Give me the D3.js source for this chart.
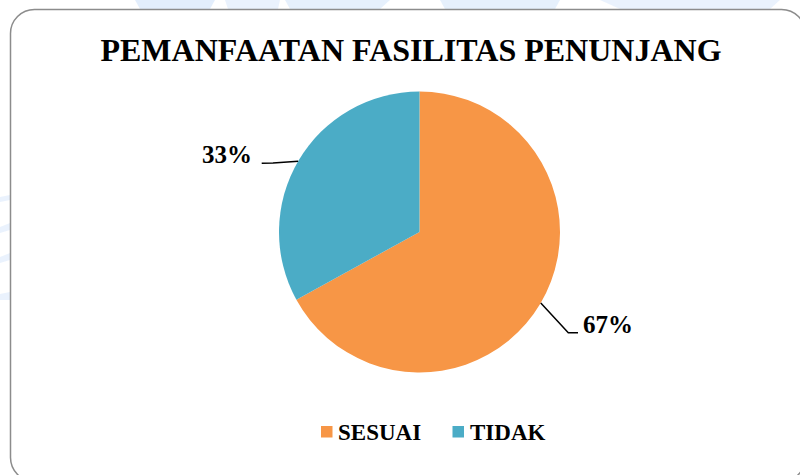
<!DOCTYPE html>
<html>
<head>
<meta charset="utf-8">
<script src="https://cdn.jsdelivr.net/npm/d3@7"></script>
<style>
  html, body { margin: 0; padding: 0; background: #ffffff; }
  svg { display: block; }
</style>
</head>
<body>
<svg id="chart" width="800" height="475"></svg>
<script>
// Chart data
const title = "PEMANFAATAN FASILITAS PENUNJANG";
const categories = ["SESUAI", "TIDAK"];
const values = [67, 33];               // percent
const labels = ["67%", "33%"];
const colors = ["#F79646", "#4BACC6"];

const svg = d3.select("#chart");
const FONT = "'Liberation Serif', 'Times New Roman', serif";

// Faint background shapes behind the chart frame
const bg = svg.append("g").attr("fill", "#dceafb");
bg.append("path").attr("d", "M135,0 L215,0 L210,9 L140,9 Z").attr("opacity", 0.8);
bg.append("path").attr("d", "M225,0 L280,0 L278,9 L228,9 Z").attr("opacity", 0.6);
bg.append("path").attr("d", "M285,0 L390,0 L380,9 L290,9 Z").attr("opacity", 0.7);
bg.append("path").attr("d", "M440,0 L560,0 L555,9 L445,9 Z").attr("opacity", 0.7);
bg.append("path").attr("d", "M600,0 L780,0 L770,9 L620,9 Z").attr("opacity", 0.6);
bg.append("path").attr("d", "M0,197 L10,195 L10,200 L0,202 Z").attr("opacity", 0.6);
bg.append("path").attr("d", "M0,227 L10,223 L10,230 L0,233 Z").attr("opacity", 0.6);
bg.append("path").attr("d", "M0,257 L10,253 L10,260 L0,263 Z").attr("opacity", 0.6);
bg.append("path").attr("d", "M0,294 L10,292 L10,300 L0,300 Z").attr("opacity", 0.6);

// Chart frame
svg.append("rect")
  .attr("x", 10.5).attr("y", 9.5)
  .attr("width", 795).attr("height", 472)
  .attr("rx", 24).attr("ry", 24)
  .attr("fill", "#ffffff")
  .attr("stroke", "#8c8c8c")
  .attr("stroke-width", 1.5);

// Title
svg.append("text")
  .attr("x", 411).attr("y", 61)
  .attr("text-anchor", "middle")
  .attr("font-family", FONT)
  .attr("font-weight", "bold")
  .attr("font-size", 32)
  .attr("fill", "#000")
  .text(title);

// Pie
const cx = 419.5, cy = 232, R = 140.5;
const pie = d3.pie().sort(null).value(d => d)(values);
const arc = d3.arc().innerRadius(0).outerRadius(R);

const g = svg.append("g").attr("transform", `translate(${cx},${cy})`);
g.selectAll("path.slice")
  .data(pie)
  .join("path")
  .attr("class", "slice")
  .attr("d", arc)
  .attr("fill", (d, i) => colors[i]);

// Leader lines and data labels (angle = where the leader leaves the rim)
const leaders = [
  { side: "right", angle: 2.10, elbow: [148.8, 100.7], end: [158.5, 100.7], text: [163.5, 101] },
  { side: "left",  angle: 5.24, elbow: [-146.5, -69],  end: [-157.8, -68.7], text: [-167.5, -69] }
];

pie.forEach((d, i) => {
  const L = leaders[i];
  const p0 = [Math.sin(L.angle) * R, -Math.cos(L.angle) * R];
  g.append("path")
    .attr("d", d3.line()([p0, L.elbow, L.end]))
    .attr("fill", "none")
    .attr("stroke", "#000")
    .attr("stroke-width", 1.5);
  g.append("text")
    .attr("x", L.text[0]).attr("y", L.text[1])
    .attr("text-anchor", L.side === "right" ? "start" : "end")
    .attr("font-family", FONT)
    .attr("font-weight", "bold")
    .attr("font-size", 25)
    .attr("fill", "#000")
    .text(labels[i]);
});

// Legend
const legendItems = [
  { x: 321, tx: 338 },
  { x: 452.5, tx: 470 }
];
const lg = svg.append("g");
categories.forEach((c, i) => {
  lg.append("rect")
    .attr("x", legendItems[i].x).attr("y", 426)
    .attr("width", 11.5).attr("height", 11.5)
    .attr("fill", colors[i]);
  lg.append("text")
    .attr("x", legendItems[i].tx).attr("y", 440)
    .attr("font-family", FONT)
    .attr("font-weight", "bold")
    .attr("font-size", 23)
    .attr("fill", "#000")
    .text(c);
});
</script>
</body>
</html>
